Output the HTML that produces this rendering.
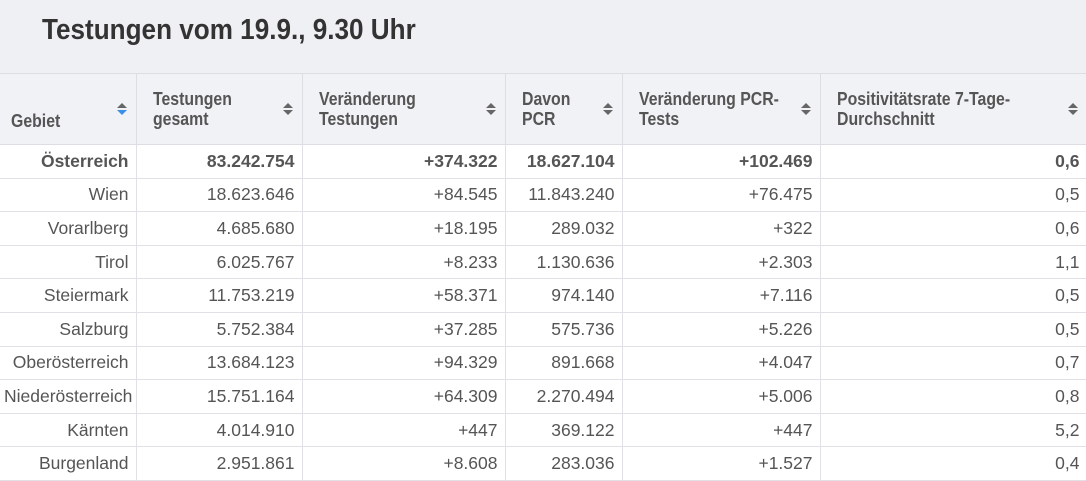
<!DOCTYPE html>
<html><head><meta charset="utf-8"><style>
body{margin:0;width:1086px;height:480px;overflow:hidden;background:#fff;font-family:"Liberation Sans",sans-serif;color:#555}
.title{position:absolute;left:0;top:0;width:1086px;height:73px;background:#eff0f4}
.title span{position:absolute;left:42px;top:14px;font-size:29px;font-weight:bold;color:#333;transform:scaleX(0.9);transform-origin:left;white-space:nowrap}
table{position:absolute;left:0;top:73px;border-collapse:collapse;table-layout:fixed;width:1087px}
thead tr{height:71px}
th{background:#f1f2f6;height:70px;box-sizing:border-box;text-align:left;vertical-align:middle;font-size:18px;font-weight:bold;color:#555;line-height:20px;border:1px solid #dcdee3;padding:0 30px 0 16px;position:relative;white-space:nowrap}
th .t{display:inline-block;transform:scaleX(0.88);transform-origin:left}
td{height:32.6px;border:1px solid #dfe1e6;text-align:right;padding:0 7px 0 4px;font-size:17.5px;white-space:nowrap}
tr.b td{font-weight:bold}
.s{position:absolute;right:8px;top:50%;margin-top:-9px;width:12px;height:18px}
th:first-child{border-left:none;padding-left:11px}
td:first-child{border-left:none}
</style></head><body>
<div class="title"><span>Testungen vom 19.9., 9.30 Uhr</span></div>
<table>
<colgroup><col style="width:136px"><col style="width:166px"><col style="width:203px"><col style="width:117px"><col style="width:198px"><col style="width:267px"></colgroup>
<thead><tr>
<th><span class="t" style="position:relative;top:12px">Gebiet</span><svg class="s" viewBox="0 0 12 18"><path d="M1 8L6 3L11 8Z" fill="#666"/><path d="M1 10L6 15L11 10Z" fill="#3b8fe6"/></svg></th>
<th><span class="t">Testungen<br>gesamt</span><svg class="s" viewBox="0 0 12 18"><path d="M1 8L6 3L11 8Z" fill="#666"/><path d="M1 10L6 15L11 10Z" fill="#666"/></svg></th>
<th><span class="t">Veränderung<br>Testungen</span><svg class="s" viewBox="0 0 12 18"><path d="M1 8L6 3L11 8Z" fill="#666"/><path d="M1 10L6 15L11 10Z" fill="#666"/></svg></th>
<th><span class="t">Davon<br>PCR</span><svg class="s" viewBox="0 0 12 18"><path d="M1 8L6 3L11 8Z" fill="#666"/><path d="M1 10L6 15L11 10Z" fill="#666"/></svg></th>
<th><span class="t">Veränderung PCR-<br>Tests</span><svg class="s" viewBox="0 0 12 18"><path d="M1 8L6 3L11 8Z" fill="#666"/><path d="M1 10L6 15L11 10Z" fill="#666"/></svg></th>
<th><span class="t">Positivitätsrate 7-Tage-<br>Durchschnitt</span><svg class="s" viewBox="0 0 12 18"><path d="M1 8L6 3L11 8Z" fill="#666"/><path d="M1 10L6 15L11 10Z" fill="#666"/></svg></th>
</tr></thead>
<tbody>
<tr class="b"><td>Österreich</td><td>83.242.754</td><td>+374.322</td><td>18.627.104</td><td>+102.469</td><td>0,6</td></tr>
<tr><td>Wien</td><td>18.623.646</td><td>+84.545</td><td>11.843.240</td><td>+76.475</td><td>0,5</td></tr>
<tr><td>Vorarlberg</td><td>4.685.680</td><td>+18.195</td><td>289.032</td><td>+322</td><td>0,6</td></tr>
<tr><td>Tirol</td><td>6.025.767</td><td>+8.233</td><td>1.130.636</td><td>+2.303</td><td>1,1</td></tr>
<tr><td>Steiermark</td><td>11.753.219</td><td>+58.371</td><td>974.140</td><td>+7.116</td><td>0,5</td></tr>
<tr><td>Salzburg</td><td>5.752.384</td><td>+37.285</td><td>575.736</td><td>+5.226</td><td>0,5</td></tr>
<tr><td>Oberösterreich</td><td>13.684.123</td><td>+94.329</td><td>891.668</td><td>+4.047</td><td>0,7</td></tr>
<tr><td>Niederösterreich</td><td>15.751.164</td><td>+64.309</td><td>2.270.494</td><td>+5.006</td><td>0,8</td></tr>
<tr><td>Kärnten</td><td>4.014.910</td><td>+447</td><td>369.122</td><td>+447</td><td>5,2</td></tr>
<tr><td>Burgenland</td><td>2.951.861</td><td>+8.608</td><td>283.036</td><td>+1.527</td><td>0,4</td></tr>
</tbody></table>
</body></html>
